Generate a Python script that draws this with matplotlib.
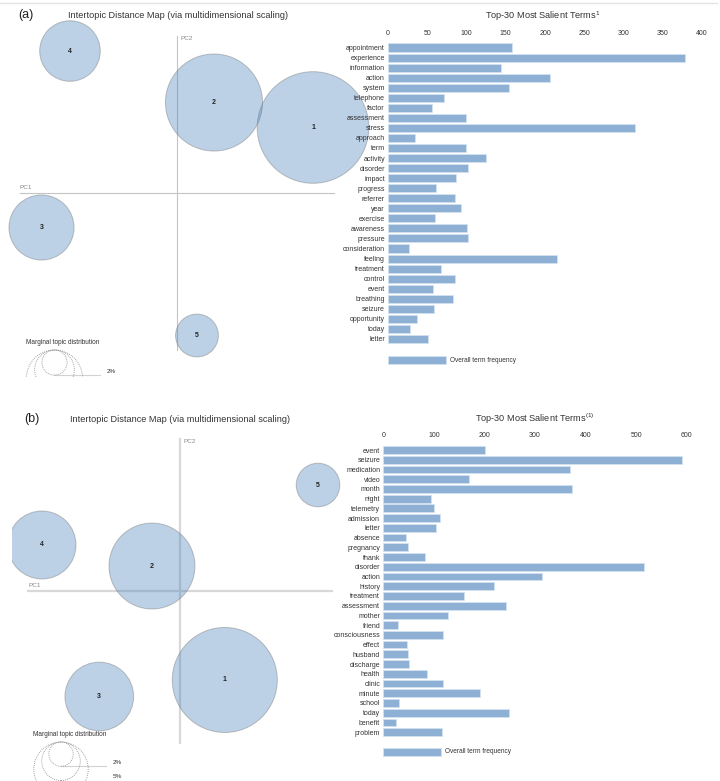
import numpy as np
import matplotlib.pyplot as plt
from matplotlib.patches import Circle, Rectangle
from matplotlib.lines import Line2D

plt.rcParams["font.family"] = ["Liberation Sans", "DejaVu Sans"]
plt.rcParams["mathtext.fontset"] = "custom"
plt.rcParams["mathtext.rm"] = "Liberation Sans"
plt.rcParams["mathtext.it"] = "Liberation Sans:italic"

W, H = 720, 781

# ---- panel (a) data
topics_a = ["1", "2", "3", "4", "5"]
pc1_a = [0.2599, 0.0707, -0.2589, -0.2045, 0.0382]
pc2_a = [0.1252, 0.1729, -0.0659, 0.2713, -0.2723]
share_a = [39.4, 29.8, 13.4, 11.6, 5.8]  # marginal topic distribution (%)

terms_a = [
    "appointment", "experience", "information", "action", "system",
    "telephone", "factor", "assessment", "stress", "approach",
    "term", "activity", "disorder", "impact", "progress",
    "referrer", "year", "exercise", "awareness", "pressure",
    "consideration", "feeling", "treatment", "control", "event",
    "breathing", "seizure", "opportunity", "today", "letter",
]
freq_a = [
    158, 378, 144, 207, 154,
    71, 56, 99, 315, 34,
    99, 125, 102, 87, 61,
    85, 93, 60, 100, 102,
    27, 215, 68, 85, 57,
    83, 58, 37, 28, 51,
]
xticks_a = [0, 50, 100, 150, 200, 250, 300, 350, 400]

# ---- panel (b) data
topics_b = ["1", "2", "3", "4", "5"]
pc1_b = [0.0884, -0.0553, -0.1593, -0.2724, 0.2724]
pc2_b = [-0.1762, 0.0487, -0.2088, 0.0902, 0.2086]
share_b = [37.2, 24.9, 15.9, 15.6, 6.4]

terms_b = [
    "event", "seizure", "medication", "video", "month",
    "night", "telemetry", "admission", "letter", "absence",
    "pregnancy", "thank", "disorder", "action", "history",
    "treatment", "assessment", "mother", "friend", "consciousness",
    "effect", "husband", "discharge", "health", "clinic",
    "minute", "school", "today", "benefit", "problem",
]
freq_b = [
    201, 591, 370, 170, 373,
    94, 100, 112, 105, 44,
    49, 82, 516, 313, 218,
    160, 243, 127, 30, 119,
    46, 48, 51, 87, 119,
    192, 32, 248, 26, 117,
]
xticks_b = [0, 100, 200, 300, 400, 500, 600]

legend_pcts = [2, 5, 10]

circle_fc = (0.31, 0.525, 0.733, 0.38)
circle_ec = (0.45, 0.45, 0.45, 0.42)
bar_c = "#8eb0d5"
bar_ec = "#d3e2f1"
txt_c = "#333333"


def fx(x):
    return x / W


def fy(y):
    return 1 - y / H


def draw_panel(fig, tag, topics, pc1, pc2, share, terms, freq, xticks, lay):
    ox, oy, s, k = lay["origin"][0], lay["origin"][1], lay["scale"], lay["k"]
    x0, y0, x1, y1 = lay["map_box"]
    ax = fig.add_axes([fx(x0), fy(y1), (x1 - x0) / W, (y1 - y0) / H])
    ax.set_xlim((x0 - ox) / s, (x1 - ox) / s)
    ax.set_ylim((oy - y1) / s, (oy - y0) / s)
    ax.axis("off")

    # PC axes
    ax.plot([-0.3, 0.3], [0, 0], color=lay["pc_c"], lw=lay["pc_lw"], zorder=1)
    ax.plot([0, 0], [-0.3, 0.3], color=lay["pc_c"], lw=lay["pc_lw"], zorder=1)
    ax.text(-0.3, 0.006, "PC1", fontsize=4.6, color="#888888", va="bottom", ha="left")
    ax.text(0.007, 0.295, "PC2", fontsize=4.6, color="#888888", va="center", ha="left")

    # topic circles
    for t, a, b, p in zip(topics, pc1, pc2, share):
        r = k * np.sqrt(p) / s
        ax.add_patch(Circle((a, b), r, facecolor=circle_fc, edgecolor=circle_ec,
                            lw=0.7, zorder=2))
        ax.text(a, b, t, fontsize=5, fontweight="bold", color="#222222",
                ha="center", va="center", zorder=3)

    # marginal topic distribution legend
    lx, ly = lay["legend_xy"]
    ax.text((lx - 28 - ox) / s, (oy - ly + 8) / s, "Marginal topic distribution",
            fontsize=4.7, color="#333333", ha="left", va="center", clip_on=True)
    cx = (lx - ox) / s
    top = (oy - ly) / s
    ybot = (oy - y1) / s
    for p in legend_pcts:
        r = k * np.sqrt(p) / s
        ax.add_patch(Circle((cx, top - r), r, fill=False, edgecolor="#999999",
                            lw=0.6, ls=(0, (1.2, 1.2)), zorder=2))
        ax.plot([cx, cx + 45 / s], [top - 2 * r, top - 2 * r], color="gray",
                alpha=0.35, lw=0.8, zorder=1)
        ty = top - 2 * r + 3.8 / s
        if ty > ybot:
            ax.text(cx + 52 / s, ty, f"{p}%", fontsize=4.6,
                    color="#333333", ha="left", va="center", clip_on=True)

    fig.text(fx(lay["tag_xy"][0]), fy(lay["tag_xy"][1]), tag, fontsize=9,
             color="#222222", ha="left", va="center")
    fig.text(fx(lay["map_title_x"]), fy(lay["title_y"]),
             "Intertopic Distance Map (via multidimensional scaling)",
             fontsize=6.6, color=txt_c, ha="center", va="center")

    # bar chart
    bl, bt, br, step = lay["bar_box"]
    n = len(terms)
    bb = bt + (n - 1) * step
    bx = fig.add_axes([fx(bl), fy(bb + step / 2), (br - bl) / W, (n * step) / H])
    bx.barh(np.arange(n), freq, height=0.8, color=bar_c, edgecolor=bar_ec, lw=0.6)
    bx.set_xlim(xticks[0], xticks[-1])
    bx.set_ylim(n - 0.5, -0.5)
    bx.set_yticks(np.arange(n), labels=terms)
    bx.set_xticks(xticks)
    bx.xaxis.tick_top()
    bx.tick_params(axis="both", length=0, labelsize=5, labelcolor=txt_c)
    bx.tick_params(axis="x", pad=4.2)
    bx.tick_params(axis="y", pad=2.2)
    for sp in bx.spines.values():
        sp.set_visible(False)
    bx.patch.set_alpha(0)
    bx.set_zorder(5)

    fig.text(fx(lay["bar_title_x"]), fy(lay["title_y"]), lay["bar_title"],
             fontsize=6.6, color=txt_c, ha="center", va="center")

    # overall term frequency legend
    gy = lay["bar_legend_y"]
    fig.add_artist(Rectangle((fx(bl), fy(gy + 4.2)), 58 / W, 8.4 / H,
                             transform=fig.transFigure, facecolor=bar_c,
                             edgecolor=bar_ec, lw=0.6))
    fig.text(fx(bl + 62), fy(gy), "Overall term frequency", fontsize=4.7,
             color=txt_c, ha="left", va="center")


fig = plt.figure(figsize=(W / 100, H / 100), dpi=100)

fig.add_artist(Line2D([0, fx(717)], [fy(2.5), fy(2.5)], transform=fig.transFigure,
                      color="#e4e4e4", lw=1))

lay_a = dict(
    origin=(177, 193), scale=157 / 0.3, k=8.89,
    map_box=(0, 4, 386, 377), pc_c="#c4c4c4", pc_lw=0.8,
    legend_xy=(54.5, 350), tag_xy=(18, 15), map_title_x=178, title_y=16,
    bar_box=(388, 47.5, 702, 10.05), bar_title_x=543,
    bar_title=r"Top-30 Most Salient Terms$^1$", bar_legend_y=360,
)
lay_b = dict(
    origin=(180, 590.7), scale=152 / 0.3, k=8.61,
    map_box=(11.7, 380, 386, 781), pc_c="#d8d8d8", pc_lw=1.6,
    legend_xy=(61, 742), tag_xy=(24, 419), map_title_x=180, title_y=419,
    bar_box=(383.3, 450, 686.7, 9.73), bar_title_x=535,
    bar_title=r"Top-30 Most Salient Terms$^{(1)}$", bar_legend_y=751.7,
)

draw_panel(fig, "(a)", topics_a, pc1_a, pc2_a, share_a, terms_a, freq_a, xticks_a, lay_a)
draw_panel(fig, "(b)", topics_b, pc1_b, pc2_b, share_b, terms_b, freq_b, xticks_b, lay_b)

fig.savefig("out.png", dpi=100)
